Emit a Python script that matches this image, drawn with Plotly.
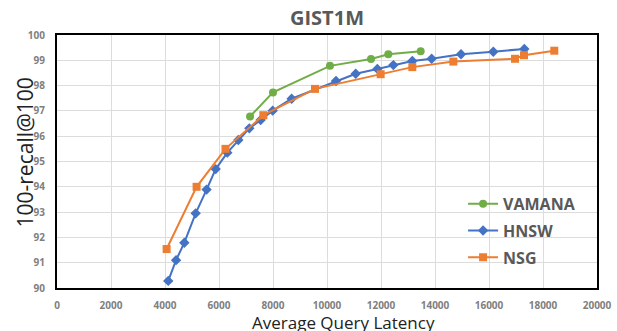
import plotly.graph_objects as go

# Data
vamana_latency = [7150, 8000, 10110, 11630, 12270, 13470]
vamana_recall = [96.78, 97.73, 98.78, 99.05, 99.24, 99.36]

hnsw_latency = [4120, 4410, 4716, 5136, 5540, 5877, 6308, 6716, 7123, 7543, 7988,
                8690, 10333, 11063, 11864, 12457, 13160, 13876, 14963, 16160, 17308]
hnsw_recall = [90.28, 91.10, 91.79, 92.95, 93.89, 94.70, 95.35, 95.85, 96.31, 96.64, 97.01,
               97.48, 98.18, 98.47, 98.66, 98.81, 98.97, 99.06, 99.24, 99.34, 99.45]

nsg_latency = [4060, 5170, 6240, 7642, 9555, 11987, 13160, 14680, 16963, 17296, 18418]
nsg_recall = [91.54, 94.00, 95.50, 96.83, 97.87, 98.45, 98.73, 98.95, 99.06, 99.20, 99.38]

series_names = ["VAMANA", "HNSW", "NSG"]
x_ticks = list(range(0, 20001, 2000))
y_ticks = list(range(90, 101, 1))

GREEN = "#70AD47"
BLUE = "#4472C4"
ORANGE = "#ED7D31"
FONT = "Open Sans"

fig = go.Figure()
fig.add_trace(go.Scatter(x=vamana_latency, y=vamana_recall, name=series_names[0],
                         mode="lines+markers", legendgroup="a",
                         line=dict(color=GREEN, width=2),
                         marker=dict(symbol="circle", size=8, color=GREEN)))
fig.add_trace(go.Scatter(x=hnsw_latency, y=hnsw_recall, name=series_names[1],
                         mode="lines+markers", legendgroup="b",
                         line=dict(color=BLUE, width=2),
                         marker=dict(symbol="diamond", size=8, color=BLUE)))
fig.add_trace(go.Scatter(x=nsg_latency, y=nsg_recall, name=series_names[2],
                         mode="lines+markers", legendgroup="c",
                         line=dict(color=ORANGE, width=2),
                         marker=dict(symbol="square", size=8, color=ORANGE)))

axis_common = dict(showgrid=True, gridcolor="#dcdcdc", gridwidth=1,
                   showline=True, linecolor="black", linewidth=2, mirror=True,
                   zeroline=False, ticks="outside", tickcolor="rgba(0,0,0,0)",
                   automargin=False,
                   tickfont=dict(family=FONT, size=10, color="#7f7f7f", weight="bold"))

fig.update_xaxes(range=[0, 20000], tickvals=x_ticks, ticktext=[str(v) for v in x_ticks],
                 ticklen=7, **axis_common)
fig.update_yaxes(range=[90, 100], tickvals=y_ticks, ticktext=[str(v) for v in y_ticks],
                 ticklen=8, **axis_common)

fig.update_layout(
    width=617, height=331,
    margin=dict(l=57, r=20, t=35, b=43),
    paper_bgcolor="white", plot_bgcolor="white",
    showlegend=True,
    legend=dict(x=0.752, y=0.40, xanchor="left", yanchor="top",
                bgcolor="rgba(0,0,0,0)", tracegroupgap=3,
                font=dict(family=FONT, size=16, color="#595959", weight="bold")),
    annotations=[
        dict(text="GIST1M", xref="paper", yref="paper", x=0.5, y=1.071,
             xanchor="center", yanchor="middle", showarrow=False,
             font=dict(family=FONT, size=20, color="#595959", weight="bold")),
        dict(text="Average Query Latency", xref="paper", yref="paper", x=0.531, y=-0.138,
             xanchor="center", yanchor="middle", showarrow=False,
             font=dict(family=FONT, size=17, color="#222222")),
        dict(text="100-recall@100", xref="paper", yref="paper", x=-0.06, y=0.534,
             xanchor="center", yanchor="middle", showarrow=False, textangle=-90,
             font=dict(family=FONT, size=21, color="#222222")),
    ],
)

fig.write_html("out.html", config={"displayModeBar": False},
               post_script="document.body.style.margin='0';document.body.style.overflow='hidden';")
